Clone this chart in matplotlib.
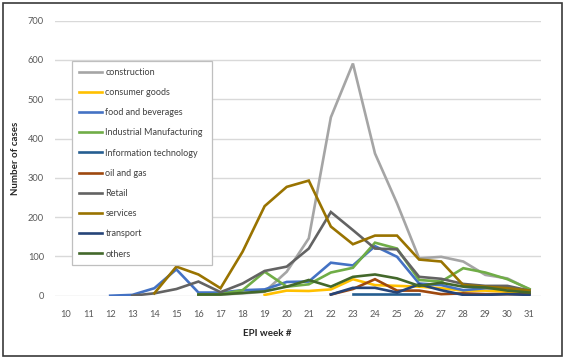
import matplotlib
matplotlib.use("Agg")
import matplotlib.pyplot as plt
import numpy as np
from matplotlib.patches import Rectangle

# EPI weeks shown on the category axis
weeks = list(range(10, 32))

# values per sector, padded with None where the series has no point
_ = None
construction = [_, _, _, _, _, _, 2, 3, 6, 10, 61, 146, 454, 591, 362, 235, 95, 99, 87, 53, 44, 16]
consumer_goods = [_, _, _, _, _, _, _, _, _, 2, 13, 12, 16, 42, 27, 25, 23, 19, 13, 13, 10, 8]
food_beverages = [_, _, 0, 2, 19, 67, 8, 8, 14, 16, 35, 36, 84, 77, 126, 99, 31, 27, 14, 19, 19, 10]
industrial = [_, _, _, _, _, _, 3, 4, 14, 61, 23, 29, 59, 71, 135, 120, 40, 36, 70, 59, 42, 17]
info_tech = [_, _, _, _, _, _, _, _, _, _, _, _, _, 4, 4, 4, 4, _, _, _, _, _]
oil_gas = [_, _, _, _, _, _, _, _, _, _, _, _, 3, 17, 42, 13, 13, 4, 6, 4, 4, 4]
retail = [_, _, _, 0, 6, 17, 36, 9, 31, 63, 74, 120, 213, 167, 120, 118, 48, 43, 30, 25, 25, 13]
services = [_, _, _, _, 6, 74, 54, 19, 112, 228, 277, 293, 176, 131, 153, 153, 92, 87, 27, 23, 19, 13]
transport = [_, _, _, _, _, _, _, _, _, _, _, _, 3, 20, 20, 8, 29, 14, 2, 2, 4, 2]
others = [_, _, _, _, _, _, 3, 3, 7, 11, 23, 40, 23, 48, 54, 44, 25, 33, 23, 21, 13, 8]

labels = ["construction", "consumer goods", "food and beverages",
          "Industrial Manufacturing", "Information technology", "oil and gas",
          "Retail", "services", "transport", "others"]
series = [construction, consumer_goods, food_beverages, industrial, info_tech,
          oil_gas, retail, services, transport, others]
colors = ["#A5A5A5", "#FFC000", "#4472C4", "#70AD47", "#255E91", "#9E480E",
          "#636363", "#997300", "#264478", "#43682B"]

plt.rcParams["font.family"] = ["Lato", "DejaVu Sans"]

W, H = 566, 360
fig = plt.figure(figsize=(W / 100, H / 100), dpi=100)
ax = fig.add_axes([55 / W, 1 - 295.7 / H, 485.5 / W, 275 / H])

for vals, lab, col in zip(series, labels, colors):
    y = np.array([np.nan if v is None else v for v in vals], dtype=float)
    ax.plot(weeks, y, color=col, lw=1.9, label=lab, solid_joinstyle="miter")

ax.set_xlim(9.5, 31.5)
ax.set_ylim(0, 700)
ax.set_xticks(weeks)
ax.set_yticks(range(0, 701, 100))
for s in ax.spines.values():
    s.set_visible(False)
ax.grid(axis="y", color="#D9D9D9", lw=1.0)
ax.set_axisbelow(True)
ax.tick_params(length=0, labelsize=6.7, labelcolor="#595959")
ax.tick_params(axis="x", pad=10)
ax.tick_params(axis="y", pad=8)

fig.text(267 / W, 1 - 333 / H, "EPI week #", ha="center", va="center",
         fontsize=7, fontweight="bold", color="#262626")
fig.text(16 / W, 1 - 158 / H, "Number of cases", ha="center", va="center",
         rotation=90, fontsize=7, fontweight="bold", color="#262626")

leg = ax.legend(loc="upper left", bbox_to_anchor=(72 / W, 0, 140 / W, 1 - 61 / H),
                bbox_transform=fig.transFigure, mode="expand", borderaxespad=0,
                fontsize=6.5, labelspacing=1.24, handlelength=2.6,
                handletextpad=0.35, borderpad=0.75, fancybox=False,
                framealpha=1, edgecolor="#BFBFBF")
leg.get_frame().set_linewidth(0.9)
for t in leg.get_texts():
    t.set_color("#404040")

fig.patches.append(Rectangle((3 / W, 4 / H), 559 / W, 353 / H, transform=fig.transFigure,
                             fill=False, ec="#3a3a3a", lw=1.2))

fig.savefig("out.png", dpi=100)
